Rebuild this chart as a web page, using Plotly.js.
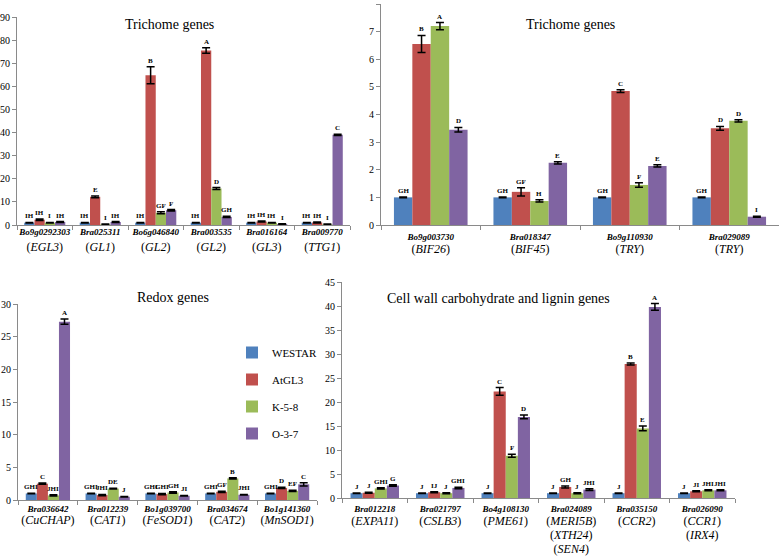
<!DOCTYPE html>
<html>
<head>
<meta charset="utf-8">
<script src="https://cdn.plot.ly/plotly-3.0.1.min.js"></script>
<style>
  body { margin: 0; background: #fff; }
  #chart { width: 779px; height: 556px; }
</style>
</head>
<body>
<div id="chart"></div>
<script>
// series
var series = ['WESTAR', 'AtGL3', 'K-5-8', 'O-3-7'];
var colors = ['#4F81BD', '#C0504D', '#9BBB59', '#8064A2'];

// top left: trichome genes
var p1Genes = ['Bo9g0292303', 'Bra025311', 'Bo6g046840', 'Bra003535', 'Bra016164', 'Bra009770'];
var p1Names = [['EGL3'], ['GL1'], ['GL2'], ['GL2'], ['GL3'], ['TTG1']];
var p1Westar = [1, 1, 1, 1, 1, 1];
var p1AtGL3 = [2.3, 12.2, 64.8, 75.5, 1.5, 1.1];
var p1K58 = [1.0, 0.3, 5.3, 15.8, 1.0, 0.3];
var p1O37 = [1.3, 1.3, 6.4, 3.5, 0.4, 39.0];
var p1ErrW = [0.1, 0.1, 0.1, 0.1, 0.1, 0.1];
var p1ErrA = [0.3, 0.4, 3.7, 1.2, 0.2, 0.2];
var p1ErrK = [0.1, 0.1, 0.4, 0.4, 0.1, 0.1];
var p1ErrO = [0.2, 0.2, 0.3, 0.3, 0.1, 0.3];
var p1LetW = ['IH', 'IH', 'IH', 'IH', 'IH', 'IH'];
var p1LetA = ['IH', 'E', 'B', 'A', 'IH', 'IH'];
var p1LetK = ['I', 'I', 'GF', 'D', 'IH', 'I'];
var p1LetO = ['IH', 'IH', 'F', 'GH', 'I', 'C'];

// top right: trichome genes
var p2Genes = ['Bo9g003730', 'Bra018347', 'Bo9g110930', 'Bra029089'];
var p2Names = [['BIF26'], ['BIF45'], ['TRY'], ['TRY']];
var p2Westar = [1, 1, 1, 1];
var p2AtGL3 = [6.55, 1.2, 4.85, 3.5];
var p2K58 = [7.2, 0.87, 1.45, 3.77];
var p2O37 = [3.45, 2.25, 2.14, 0.3];
var p2ErrW = [0.01, 0.01, 0.01, 0.01];
var p2ErrA = [0.31, 0.15, 0.05, 0.07];
var p2ErrK = [0.13, 0.04, 0.08, 0.04];
var p2ErrO = [0.08, 0.04, 0.04, 0.02];
var p2LetW = ['GH', 'GH', 'GH', 'GH'];
var p2LetA = ['B', 'GF', 'C', 'D'];
var p2LetK = ['A', 'H', 'F', 'D'];
var p2LetO = ['D', 'E', 'E', 'I'];

// bottom left: redox genes
var p3Genes = ['Bra036642', 'Bra012239', 'Bo1g039700', 'Bra034674', 'Bo1g141360'];
var p3Names = [['CuCHAP'], ['CAT1'], ['FeSOD1'], ['CAT2'], ['MnSOD1']];
var p3Westar = [1, 1, 1, 1, 1];
var p3AtGL3 = [2.5, 0.75, 0.9, 1.25, 1.85];
var p3K58 = [0.7, 1.75, 1.15, 3.3, 1.4];
var p3O37 = [27.3, 0.5, 0.65, 0.8, 2.4];
var p3ErrW = [0.05, 0.05, 0.05, 0.05, 0.05];
var p3ErrA = [0.1, 0.1, 0.1, 0.1, 0.1];
var p3ErrK = [0.1, 0.05, 0.1, 0.1, 0.1];
var p3ErrO = [0.4, 0.05, 0.05, 0.05, 0.25];
var p3LetW = ['GHI', 'GHI', 'GHI', 'GHI', 'GHI'];
var p3LetA = ['C', 'JHI', 'GHI', 'GF', 'D'];
var p3LetK = ['JHI', 'DE', 'GH', 'B', 'EF'];
var p3LetO = ['A', 'J', 'JI', 'JHI', 'C'];

// bottom right: cell wall carbohydrate and lignin genes
var p4Genes = ['Bra012218', 'Bra021797', 'Bo4g108130', 'Bra024089', 'Bra035150', 'Bra026090'];
var p4Names = [['EXPA11'], ['CSLB3'], ['PME61'], ['MERI5B', 'XTH24', 'SEN4'], ['CCR2'], ['CCR1', 'IRX4']];
var p4Westar = [1, 1, 1, 1, 1, 1];
var p4AtGL3 = [1.1, 1.2, 22.2, 2.3, 27.9, 1.4];
var p4K58 = [2.0, 1.0, 8.8, 1.0, 14.5, 1.6];
var p4O37 = [2.6, 2.1, 16.9, 1.75, 39.8, 1.6];
var p4ErrW = [0.05, 0.05, 0.05, 0.05, 0.05, 0.05];
var p4ErrA = [0.1, 0.1, 0.8, 0.2, 0.2, 0.1];
var p4ErrK = [0.15, 0.1, 0.3, 0.1, 0.5, 0.1];
var p4ErrO = [0.15, 0.15, 0.4, 0.2, 0.7, 0.1];
var p4LetW = ['J', 'J', 'J', 'J', 'J', 'J'];
var p4LetA = ['J', 'IJ', 'C', 'GH', 'B', 'JI'];
var p4LetK = ['GHI', 'J', 'F', 'J', 'E', 'JHI'];
var p4LetO = ['G', 'GHI', 'D', 'JHI', 'A', 'JHI'];

var serif = 'Liberation Serif';
var bargap = 0.26;
var W = 779, H = 556;

// gene id in small bold italics, gene names below in larger type
function tickLabel(gene, names) {
  var s = '<b><i><span style="font-size:9px">' + gene + '</span></i></b>';
  names.forEach(function (n) {
    s += '<br><span style="font-size:12px">(<i>' + n + '</i>)</span>';
  });
  return s;
}

// lineSize sets the spacing between label lines, shift nudges them up/down
var panels = [
  { genes: p1Genes, names: p1Names, vals: [p1Westar, p1AtGL3, p1K58, p1O37],
    errs: [p1ErrW, p1ErrA, p1ErrK, p1ErrO], lets: [p1LetW, p1LetA, p1LetK, p1LetO],
    px: [17, 350], py: [225, 17], range: [0, 90], dtick: 10, lineSize: 12, shift: -5 },
  { genes: p2Genes, names: p2Names, vals: [p2Westar, p2AtGL3, p2K58, p2O37],
    errs: [p2ErrW, p2ErrA, p2ErrK, p2ErrO], lets: [p2LetW, p2LetA, p2LetK, p2LetO],
    px: [381, 779], py: [225, 4], range: [0, 8], dtick: 1, lineSize: 9.5, shift: 3 },
  { genes: p3Genes, names: p3Names, vals: [p3Westar, p3AtGL3, p3K58, p3O37],
    errs: [p3ErrW, p3ErrA, p3ErrK, p3ErrO], lets: [p3LetW, p3LetA, p3LetK, p3LetO],
    px: [18, 317], py: [500, 304], range: [0, 30], dtick: 5, lineSize: 9, shift: 0 },
  { genes: p4Genes, names: p4Names, vals: [p4Westar, p4AtGL3, p4K58, p4O37],
    errs: [p4ErrW, p4ErrA, p4ErrK, p4ErrO], lets: [p4LetW, p4LetA, p4LetK, p4LetO],
    px: [342, 735], py: [498, 282], range: [0, 45], dtick: 5, lineSize: 10.5, shift: 0 }
];

var traces = [];
var annotations = [];
var layout = {
  width: W, height: H,
  margin: { l: 0, r: 0, t: 0, b: 0 },
  paper_bgcolor: '#ffffff',
  plot_bgcolor: 'rgba(0,0,0,0)',
  font: { family: serif, color: '#000', size: 10 },
  barmode: 'group',
  bargap: bargap,
  bargroupgap: 0,
  showlegend: true,
  legend: {
    x: 232 / W, y: 1 - 338 / H, xanchor: 'left', yanchor: 'top',
    font: { family: serif, size: 11 }, tracegroupgap: 8,
    bgcolor: 'rgba(0,0,0,0)'
  }
};

panels.forEach(function (p, k) {
  var ax = k === 0 ? '' : String(k + 1);
  var labels = p.genes.map(function (g, i) { return tickLabel(g, p.names[i]); });

  for (var s = 0; s < 4; s++) {
    traces.push({
      type: 'bar',
      name: series[s],
      x: labels,
      y: p.vals[s],
      xaxis: 'x' + ax, yaxis: 'y' + ax,
      marker: { color: colors[s] },
      error_y: { type: 'data', array: p.errs[s], visible: true, color: '#000', thickness: 1.5, width: 4 },
      legendgroup: series[s],
      showlegend: k === 2,
      hoverinfo: 'y'
    });

    // significance letters above each bar
    var groupW = 1 - bargap;
    var off = -groupW / 2 + (s + 0.5) * groupW / 4;
    for (var i = 0; i < p.genes.length; i++) {
      annotations.push({
        xref: 'x' + ax, yref: 'y' + ax,
        x: i + off, y: p.vals[s][i] + p.errs[s][i],
        yanchor: 'bottom', yshift: 0,
        text: '<b>' + p.lets[s][i] + '</b>',
        showarrow: false,
        font: { family: serif, size: 7, color: '#000' }
      });
    }
  }

  layout['xaxis' + ax] = {
    domain: [p.px[0] / W, p.px[1] / W],
    anchor: 'y' + ax,
    type: 'category',
    showline: true, linecolor: '#8a8a8a', linewidth: 1,
    ticks: 'outside', tickson: 'boundaries', ticklen: 4, tickcolor: '#8a8a8a',
    tickfont: { family: serif, size: p.lineSize, color: '#000' },
    ticklabelstandoff: p.shift,
    tickangle: 0,
    showgrid: false, zeroline: false, fixedrange: true
  };
  layout['yaxis' + ax] = {
    domain: [1 - p.py[0] / H, 1 - p.py[1] / H],
    anchor: 'x' + ax,
    range: p.range, dtick: p.dtick,
    showline: true, linecolor: '#8a8a8a', linewidth: 1,
    ticks: 'outside', ticklen: 4, tickcolor: '#8a8a8a',
    tickfont: { family: serif, size: 10, color: '#000' },
    showgrid: false, zeroline: false, fixedrange: true
  };
});

// panel titles
var titles = [
  { text: 'Trichome genes', x: 169, y: 25 },
  { text: 'Trichome genes', x: 570, y: 25 },
  { text: 'Redox genes', x: 173, y: 297 },
  { text: 'Cell wall carbohydrate and lignin genes', x: 499, y: 298 }
];
titles.forEach(function (t) {
  annotations.push({
    xref: 'paper', yref: 'paper', x: t.x / W, y: 1 - t.y / H,
    xanchor: 'center', yanchor: 'middle', showarrow: false,
    text: t.text, font: { family: serif, size: 14, color: '#000' }
  });
});

layout.annotations = annotations;

Plotly.newPlot('chart', traces, layout, { displayModeBar: false, staticPlot: true });
</script>
</body>
</html>
